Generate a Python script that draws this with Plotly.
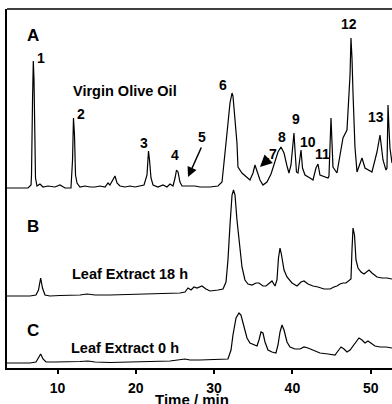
import plotly.graph_objects as go

# ---- data (time in min, detector signal in arbitrary units above each trace's baseline) ----
time_a = [3.55, 6.23, 6.62, 6.68, 6.81, 6.91, 7.00, 7.06, 7.19, 7.38, 7.76, 8.15, 8.79, 9.68,
          10.32, 10.96, 11.72, 11.92, 12.04, 12.17, 12.30, 12.49, 12.87, 13.51, 14.15, 14.79,
          15.43, 16.07, 16.45, 16.70, 17.09, 17.34, 17.60, 17.98, 18.62, 19.26, 19.90, 21.05,
          21.43, 21.62, 21.75, 21.94, 22.20, 22.83, 23.47, 23.98, 24.37, 24.75, 25.01, 25.20,
          25.39, 25.64, 25.90, 26.67, 27.56, 28.20, 29.48, 30.50, 31.01, 31.52, 31.77, 32.03,
          32.29, 32.41, 32.67, 32.92, 33.05, 33.56, 34.58, 34.97, 35.22, 35.48, 35.86, 36.24,
          36.75, 37.27, 37.78, 38.16, 38.54, 38.93, 39.31, 39.56, 39.82, 40.08, 40.20, 40.33,
          40.52, 40.71, 40.97, 41.10, 41.29, 41.61, 42.25, 42.63, 43.01, 43.27, 43.52, 44.16,
          44.55, 44.67, 44.80, 44.93, 45.06, 45.18, 45.69, 46.46, 46.97, 47.23, 47.36, 47.48,
          47.61, 47.74, 47.99, 48.25, 48.89, 49.27, 50.16, 50.80, 51.19, 51.57, 51.95, 52.08,
          52.21, 52.33, 52.46, 52.72]
signal_a = [0, 0, 3, 13, 88, 127, 108, 58, 10, 2, 4, 1, 2, 1,
            3, 0, 0, 28, 70, 53, 13, 5, 1, 2, 1, 1,
            2, 1, 5, 3, 8, 12, 5, 2, 1, 2, 1, 3,
            13, 37, 28, 10, 3, 1, 3, 1, 4, 2, 10, 18,
            16, 6, 2, 2, 2, 1, 1, 2, 6, 45, 68, 85,
            95, 92, 68, 45, 21, 15, 8, 15, 23, 16, 8, 3,
            6, 14, 28, 36, 41, 35, 22, 15, 23, 43, 55, 38,
            16, 15, 30, 38, 20, 13, 10, 8, 20, 24, 13, 11,
            10, 12, 35, 70, 45, 21, 15, 50, 58, 88, 113, 150,
            130, 95, 41, 16, 30, 20, 16, 36, 53, 28, 18, 20,
            83, 60, 40, 25]

time_b = [3.55, 6.49, 7.25, 7.57, 7.85, 8.08, 8.40, 9.04, 10.32, 12.87, 13.77, 14.79, 16.70,
          19.26, 21.81, 23.73, 25.64, 26.28, 26.67, 27.05, 27.43, 27.81, 28.45, 28.96, 29.48,
          30.50, 31.14, 31.52, 31.77, 32.03, 32.29, 32.48, 32.67, 32.92, 33.31, 33.56, 33.94,
          34.33, 34.84, 35.35, 35.73, 36.24, 36.63, 37.14, 37.39, 37.78, 38.03, 38.22, 38.42,
          38.61, 38.93, 39.31, 39.95, 40.59, 41.10, 41.48, 41.99, 42.63, 43.27, 44.03, 44.80,
          45.31, 45.69, 46.08, 46.46, 46.84, 47.23, 47.48, 47.61, 47.74, 47.93, 48.12, 48.38,
          48.76, 49.14, 49.53, 49.78, 50.16, 50.80, 51.44, 52.08, 52.72]
signal_b = [0, 0, 1, 6, 18, 8, 1, 0, 0.5, 1, 2, 1, 1,
            1.5, 2, 2, 3, 4, 8, 6, 9, 8, 10, 7, 5,
            6, 7, 14, 36, 71, 101, 106, 101, 76, 46, 29, 16,
            12, 11, 13, 13, 10, 10, 14, 15, 10, 16, 38, 48,
            41, 26, 19, 13, 10, 14, 15, 12, 10, 9, 7, 7,
            9, 10, 12, 13, 13, 15, 17, 46, 68, 61, 36, 28,
            24, 22, 25, 26, 23, 19, 18, 18, 17]

time_c = [3.55, 6.49, 7.25, 7.57, 7.85, 8.15, 8.53, 9.68, 11.60, 12.87, 13.89, 14.79, 16.70,
          19.26, 21.81, 24.37, 26.28, 26.92, 28.20, 29.48, 30.75, 31.77, 32.16, 32.41, 32.80,
          33.18, 33.43, 33.82, 34.20, 34.58, 35.10, 35.48, 35.73, 35.99, 36.24, 36.50, 36.88,
          37.39, 37.90, 38.16, 38.42, 38.67, 38.93, 39.31, 39.69, 40.33, 40.97, 41.48, 41.99,
          42.63, 43.52, 44.55, 45.44, 45.82, 46.21, 46.59, 46.97, 47.36, 47.74, 48.12, 48.50,
          48.89, 49.27, 49.65, 50.04, 50.55, 51.19, 51.95, 52.72]
signal_c = [0, 0, 1, 5, 9, 4, 1, 1, 1, 1.5, 2, 1, 0.5,
            1, 1.5, 2, 4, 3, 3, 3.5, 3.5, 4, 13, 28, 45,
            50, 48, 35, 25, 20, 18, 17, 23, 31, 30, 21, 13,
            11, 10, 18, 31, 38, 33, 21, 16, 14, 14, 16, 15,
            13, 10, 9, 8, 12, 16, 14, 11, 13, 17, 22, 25,
            23, 20, 22, 20, 17, 16, 16, 15]

x_ticks = [10, 20, 30, 40, 50]
peak_numbers = ["1", "2", "3", "4", "5", "6", "7", "8", "9", "10", "11", "12", "13"]
sample_names = ["Virgin Olive Oil", "Leaf Extract 18 h", "Leaf Extract 0 h"]
panel_letters = ["A", "B", "C"]

# ---- layout configuration ----
offsets = [180, 72, 5]
FONT = "Liberation Sans, Arial, Helvetica, sans-serif"
peak_label_pos = [(7.86, 310), (13.0, 254), (21.05, 225), (25.0, 213), (28.5, 231),
                  (31.14, 283), (37.55, 214), (38.67, 231), (40.46, 249), (41.99, 226),
                  (43.78, 214), (47.23, 344), (50.7, 251)]
name_pos = [(18.62, 277), (19.26, 94), (18.68, 20)]
letter_pos = [(6.87, 333), (6.87, 142), (6.87, 38)]

fig = go.Figure()
for t, s, off in [(time_a, signal_a, offsets[0]), (time_b, signal_b, offsets[1]),
                  (time_c, signal_c, offsets[2])]:
    fig.add_trace(go.Scatter(x=t, y=[v + off for v in s], mode="lines",
                             line=dict(color="black", width=1.2), hoverinfo="skip",
                             showlegend=False))

ann = []
for txt, (x, y) in zip(peak_numbers, peak_label_pos):
    ann.append(dict(x=x, y=y, xref="x", yref="y", text="<b>%s</b>" % txt, showarrow=False,
                    font=dict(family=FONT, size=14, color="black")))
for txt, (x, y) in zip(sample_names, name_pos):
    ann.append(dict(x=x, y=y, xref="x", yref="y", text="<b>%s</b>" % txt, showarrow=False,
                    font=dict(family=FONT, size=14.5, color="black")))
for txt, (x, y) in zip(panel_letters, letter_pos):
    ann.append(dict(x=x, y=y, xref="x", yref="y", text="<b>%s</b>" % txt, showarrow=False,
                    font=dict(family=FONT, size=17, color="black")))
# arrows for peaks 5 and 7
ann.append(dict(x=26.67, y=191, ax=28.45, ay=222, xref="x", yref="y", axref="x", ayref="y",
                text="", showarrow=True, arrowhead=2, arrowsize=1.3, arrowwidth=1.5,
                arrowcolor="black"))
ann.append(dict(x=35.86, y=201, ax=37.2, ay=211, xref="x", yref="y", axref="x", ayref="y",
                text="", showarrow=True, arrowhead=2, arrowsize=1.6, arrowwidth=1.5,
                arrowcolor="black"))
ann.append(dict(x=0.48, y=-0.058, xref="paper", yref="paper", text="<b>Time / min</b>",
                showarrow=False, yanchor="top", xanchor="center",
                font=dict(family=FONT, size=15, color="black")))

fig.update_layout(
    width=392, height=404,
    margin=dict(l=7, r=0, t=9, b=36),
    paper_bgcolor="white", plot_bgcolor="white",
    annotations=ann,
    shapes=[dict(type="line", xref="paper", yref="paper", x0=0, x1=1, y0=1, y1=1,
                 line=dict(color="black", width=1.5))],
    xaxis=dict(range=[3.55, 52.72], showgrid=False, zeroline=False, showline=True,
               linecolor="black", linewidth=1.5, ticks="outside", ticklen=4, tickwidth=1.5,
               tickcolor="black", tickvals=x_ticks, ticklabelstandoff=2,
               tickfont=dict(family=FONT, size=14, color="black", weight="bold")),
    yaxis=dict(range=[0, 359], showgrid=False, zeroline=False, showline=True,
               linecolor="black", linewidth=1.5, ticks="", showticklabels=False),
)

fig.write_html("out.html", config={"displayModeBar": False},
               post_script="document.body.style.margin='0';document.body.style.overflow='hidden';")
